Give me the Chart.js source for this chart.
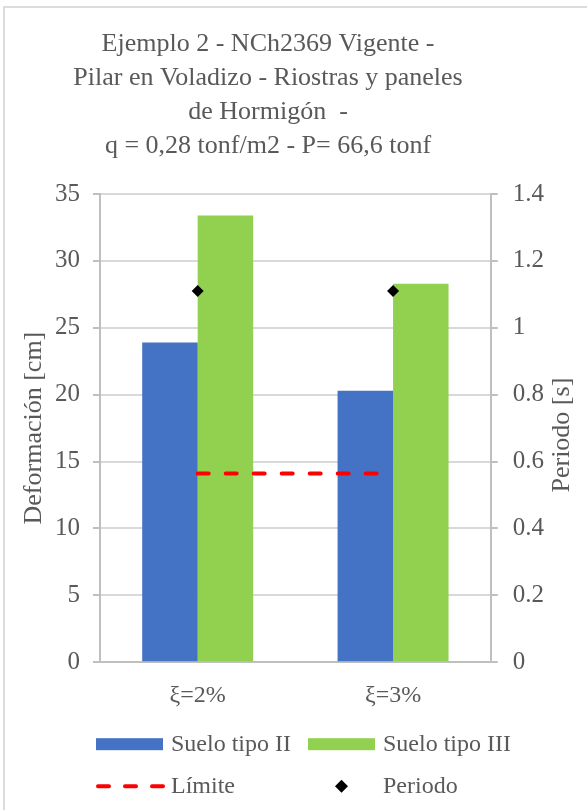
<!DOCTYPE html>
<html>
<head>
<meta charset="utf-8">
<script src="https://cdn.jsdelivr.net/npm/chart.js@4.4.0/dist/chart.umd.min.js"></script>
<style>
  html, body { margin: 0; padding: 0; background: #fff; overflow: hidden; }
  #frame { position: absolute; left: 3px; top: 6px; width: 700px; height: 900px; border: 2px solid #dcdcdc; }
  #wrap { position: absolute; left: 0; top: 0; width: 587px; height: 810px; }
</style>
</head>
<body>
<div id="frame"></div>
<div id="wrap"><canvas id="chart" width="587" height="810"></canvas></div>
<script>
// --- Data ---
const categories = ['ξ=2%', 'ξ=3%'];
const sueloII = [23.9, 20.3];      // cm
const sueloIII = [33.4, 28.3];     // cm
const limite = [14.1, 14.1];       // cm
const periodo = [1.11, 1.11];      // s (right axis)

const titleLines = [
    'Ejemplo 2 - NCh2369 Vigente -',
    'Pilar en Voladizo - Riostras y paneles',
    'de Hormigón  -',
    'q = 0,28 tonf/m2 - P= 66,6 tonf'
];
const rightTitle = 'Periodo [s]';

const SERIF = "'Liberation Serif', 'Times New Roman', serif";
const TEXT = '#595959';
const AXIS = '#bfbfbf';
const GRID = '#d9d9d9';

// --- Title drawn on the canvas, centred like the Excel original ---
const titlePlugin = {
    id: 'excelTitle',
    afterDraw(chart) {
        const ctx = chart.ctx;
        ctx.save();
        ctx.fillStyle = TEXT;
        ctx.font = '26px ' + SERIF;
        ctx.textAlign = 'center';
        ctx.textBaseline = 'alphabetic';
        titleLines.forEach((line, i) => {
            ctx.fillText(line, 268, 51 + i * 34);
        });
        ctx.restore();
    }
};

// --- Right axis title, rotated the same way as the left one ---
const rightTitlePlugin = {
    id: 'rightTitle',
    afterDraw(chart) {
        const ctx = chart.ctx;
        const area = chart.chartArea;
        const sc = chart.scales.y1;
        ctx.save();
        ctx.translate(sc.left + 71, (area.top + area.bottom) / 2 + 7);
        ctx.rotate(-Math.PI / 2);
        ctx.fillStyle = TEXT;
        ctx.font = '26px ' + SERIF;
        ctx.textAlign = 'center';
        ctx.textBaseline = 'middle';
        ctx.fillText(rightTitle, 0, 0);
        ctx.restore();
    }
};

// --- Legend in a two-column grid below the x labels ---
const legendPlugin = {
    id: 'gridLegend',
    afterDraw(chart) {
        const ctx = chart.ctx;
        const area = chart.chartArea;
        const col1 = area.left - 4;
        const col2 = area.left + 208;
        const row1 = area.bottom + 82;
        const row2 = area.bottom + 124;
        const boxW = 67;
        const items = [
            { x: col1, y: row1, kind: 'box', color: '#4472C4', label: 'Suelo tipo II' },
            { x: col2, y: row1, kind: 'box', color: '#92D050', label: 'Suelo tipo III' },
            { x: col1, y: row2, kind: 'dash', color: '#FF0000', label: 'Límite' },
            { x: col2, y: row2, kind: 'diamond', color: '#000000', label: 'Periodo' }
        ];
        ctx.save();
        items.forEach(it => {
            if (it.kind === 'box') {
                ctx.fillStyle = it.color;
                ctx.fillRect(it.x, it.y - 6, boxW, 12);
            } else if (it.kind === 'dash') {
                ctx.strokeStyle = it.color;
                ctx.lineWidth = 4;
                ctx.lineCap = 'round';
                ctx.setLineDash([11, 16]);
                ctx.beginPath();
                ctx.moveTo(it.x + 2, it.y);
                ctx.lineTo(it.x + boxW, it.y);
                ctx.stroke();
                ctx.setLineDash([]);
            } else {
                const cx = it.x + boxW / 2;
                ctx.fillStyle = it.color;
                ctx.beginPath();
                ctx.moveTo(cx - 6.5, it.y);
                ctx.lineTo(cx, it.y - 6.5);
                ctx.lineTo(cx + 6.5, it.y);
                ctx.lineTo(cx, it.y + 6.5);
                ctx.closePath();
                ctx.fill();
            }
            ctx.fillStyle = TEXT;
            ctx.font = '24px ' + SERIF;
            ctx.textAlign = 'left';
            ctx.textBaseline = 'middle';
            ctx.fillText(it.label, it.x + boxW + 8, it.y + 1);
        });
        ctx.restore();
    }
};

const ctx = document.getElementById('chart').getContext('2d');
new Chart(ctx, {
    type: 'bar',
    data: {
        labels: categories,
        datasets: [
            {
                type: 'line',
                label: 'Límite',
                data: limite,
                yAxisID: 'y',
                borderColor: '#FF0000',
                borderWidth: 4,
                borderDash: [11, 17],
                borderCapStyle: 'round',
                pointRadius: 0,
                fill: false,
                order: 0
            },
            {
                type: 'line',
                label: 'Periodo',
                data: periodo,
                yAxisID: 'y1',
                showLine: false,
                pointStyle: 'rectRot',
                pointRadius: 6,
                pointBackgroundColor: '#000000',
                pointBorderColor: '#000000',
                pointBorderWidth: 0,
                order: 0
            },
            {
                label: 'Suelo tipo II',
                data: sueloII,
                backgroundColor: '#4472C4',
                yAxisID: 'y',
                order: 2
            },
            {
                label: 'Suelo tipo III',
                data: sueloIII,
                backgroundColor: '#92D050',
                yAxisID: 'y',
                order: 2
            }
        ]
    },
    options: {
        responsive: false,
        animation: false,
        categoryPercentage: 0.568,
        barPercentage: 1.0,
        layout: { padding: { top: 194, bottom: 81, left: 18.4, right: 28 } },
        plugins: {
            legend: { display: false },
            title: { display: false },
            tooltip: { enabled: false }
        },
        scales: {
            x: {
                grid: { display: false, drawTicks: false },
                border: { color: AXIS, width: 2 },
                ticks: { color: TEXT, padding: 19, font: { family: SERIF, size: 24 } }
            },
            y: {
                position: 'left',
                min: 0,
                max: 35,
                ticks: { stepSize: 5, color: TEXT, padding: 13, font: { family: SERIF, size: 25 } },
                grid: { color: GRID, lineWidth: 2, tickColor: AXIS, tickLength: 7 },
                border: { color: AXIS, width: 2 },
                title: {
                    display: true,
                    text: 'Deformación [cm]',
                    color: TEXT,
                    padding: { top: 0, bottom: -7.6 },
                    font: { family: SERIF, size: 26 }
                }
            },
            y1: {
                position: 'right',
                min: 0,
                max: 1.4,
                ticks: {
                    stepSize: 0.2,
                    color: TEXT,
                    padding: 15,
                    font: { family: SERIF, size: 25 },
                    callback: v => String(Number(v.toFixed(1)))
                },
                grid: { drawOnChartArea: false, tickColor: AXIS, tickLength: 7, lineWidth: 2 },
                border: { color: AXIS, width: 2 },
                title: { display: false }
            }
        }
    },
    plugins: [titlePlugin, rightTitlePlugin, legendPlugin]
});
</script>
</body>
</html>
